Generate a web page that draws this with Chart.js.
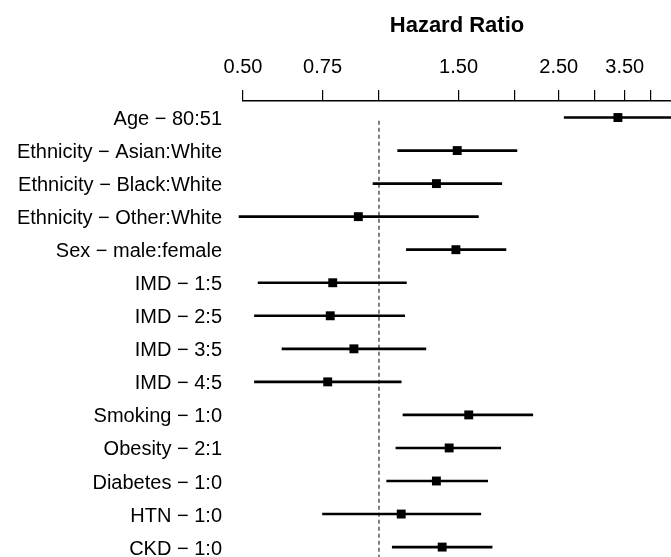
<!DOCTYPE html>
<html>
<head>
<meta charset="utf-8">
<script src="https://cdn.jsdelivr.net/npm/chart.js@4/dist/chart.umd.min.js"></script>
<style>
  body { margin: 0; background: #fff; }
</style>
</head>
<body>
<canvas id="myChart" width="671" height="557"></canvas>
<script>
const rowLabels = [
  'Age − 80:51',
  'Ethnicity − Asian:White',
  'Ethnicity − Black:White',
  'Ethnicity − Other:White',
  'Sex − male:female',
  'IMD − 1:5',
  'IMD − 2:5',
  'IMD − 3:5',
  'IMD − 4:5',
  'Smoking − 1:0',
  'Obesity − 2:1',
  'Diabetes − 1:0',
  'HTN − 1:0',
  'CKD − 1:0',
];
const hazard = [3.38, 1.49, 1.34, 0.90, 1.48, 0.79, 0.78, 0.88, 0.77, 1.58, 1.43, 1.34, 1.12, 1.38];
const lower = [2.57, 1.10, 0.97, 0.49, 1.15, 0.54, 0.53, 0.61, 0.53, 1.13, 1.09, 1.04, 0.75, 1.07];
const upper = [4.45, 2.02, 1.87, 1.66, 1.91, 1.15, 1.14, 1.27, 1.12, 2.19, 1.86, 1.74, 1.68, 1.78];

const xTicks = [0.5, 0.75, 1, 1.5, 2, 2.5, 3, 3.5, 4];
const xTickLabels = ['0.50', '0.75', '', '1.50', '', '2.50', '', '3.50', ''];

Chart.defaults.font.family = '"Liberation Sans", Arial, sans-serif';
Chart.defaults.font.size = 20;
Chart.defaults.color = '#000';

const ctx = document.getElementById('myChart');

const myChart = new Chart(ctx, {
  type: 'scatter',
  data: {
    datasets: [
      {
        // hazard ratio markers
        type: 'scatter',
        data: hazard.map((v, i) => ({ x: v, y: i })),
        pointStyle: 'rect',
        pointRadius: 6.3,
        pointBorderWidth: 0,
        backgroundColor: '#000',
        borderColor: '#000',
        order: 0,
      },
      {
        // confidence intervals
        type: 'bar',
        indexAxis: 'y',
        data: lower.map((lo, i) => ({ x: [lo, upper[i]], y: i })),
        backgroundColor: '#000',
        barThickness: 2,
        clip: false,
        order: 1,
      },
      {
        // reference line at HR = 1
        type: 'line',
        data: [{ x: 1, y: 0.1 }, { x: 1, y: 13.3 }],
        borderColor: '#555',
        borderWidth: 1.5,
        borderDash: [4, 3],
        pointRadius: 0,
        order: 2,
      },
    ],
  },
  options: {
    responsive: false,
    animation: false,
    layout: { padding: 0, autoPadding: false },
    plugins: {
      legend: { display: false },
      tooltip: { enabled: false },
    },
    scales: {
      x: {
        type: 'logarithmic',
        position: 'top',
        min: 0.5,
        max: 4.43,
        bounds: 'data',
        offset: false,
        afterBuildTicks: (scale) => {
          scale.ticks = xTicks.map((v) => ({ value: v }));
        },
        afterFit: (scale) => {
          scale.height = 101;
          scale.paddingLeft = 0;
          scale.paddingRight = 0;
        },
        ticks: {
          autoSkip: false,
          maxRotation: 0,
          padding: 11,
          callback: (val) => {
            const idx = xTicks.indexOf(val);
            return idx >= 0 ? xTickLabels[idx] : '';
          },
        },
        grid: {
          drawOnChartArea: false,
          drawTicks: true,
          tickLength: 11,
          color: '#000',
          lineWidth: 1.2,
        },
        border: { display: true, color: '#000', width: 1.5 },
        title: {
          display: true,
          text: 'Hazard Ratio',
          font: { weight: 'bold', size: 22 },
          padding: { top: 12.5, bottom: 0 },
        },
      },
      y: {
        type: 'linear',
        reverse: true,
        offset: false,
        min: -0.5,
        max: 13.3,
        afterBuildTicks: (scale) => {
          scale.ticks = rowLabels.map((l, i) => ({ value: i }));
        },
        afterFit: (scale) => {
          scale.width = 243;
          scale.paddingTop = 0;
          scale.paddingBottom = 0;
        },
        ticks: {
          autoSkip: false,
          padding: 21,
          labelOffset: 2,
          callback: (val) => rowLabels[val] || '',
        },
        grid: { display: false, drawTicks: false, offset: false },
        border: { display: false },
      },
    },
  },
});
</script>
</body>
</html>
